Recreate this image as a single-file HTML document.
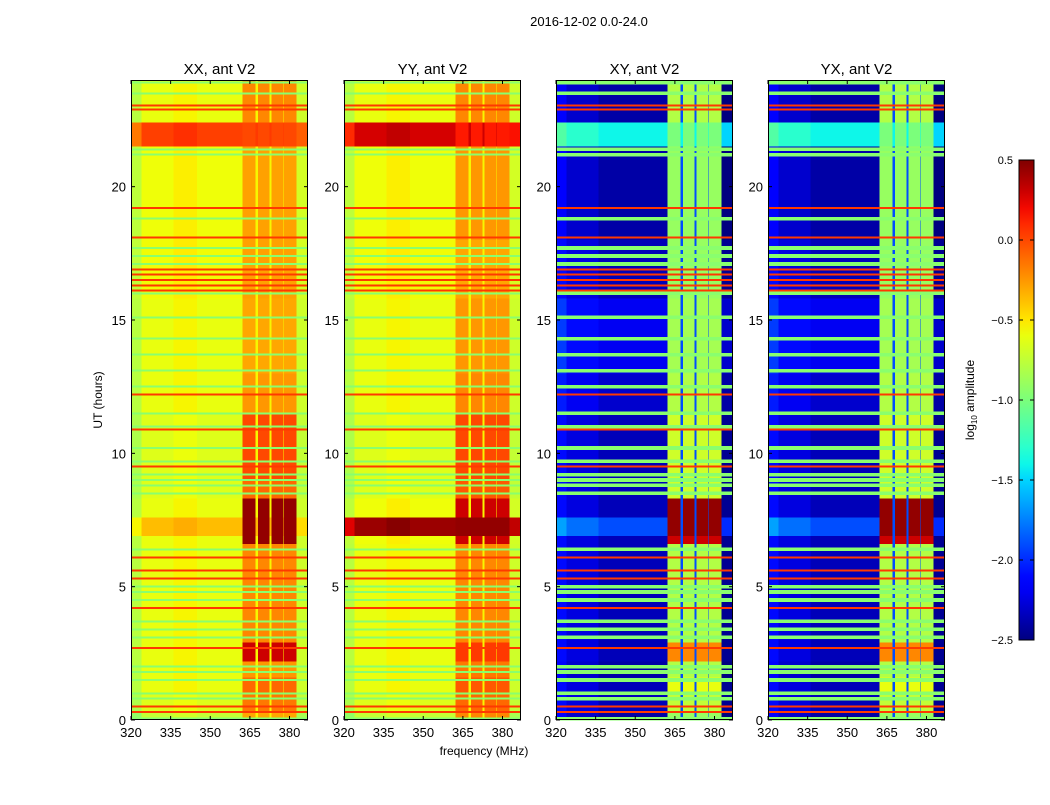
<!DOCTYPE html>
<html><head><meta charset="utf-8">
<style>
body{margin:0;background:#fff;width:1050px;height:800px;overflow:hidden;font-family:"Liberation Sans",sans-serif;}
#root{position:relative;width:1050px;height:800px;}
</style></head>
<body><div id="root">
<svg id="svg" width="1050" height="800" xmlns="http://www.w3.org/2000/svg"></svg>
</div>
<script>
// ---- data ----
const panelTitles = ["XX, ant V2","YY, ant V2","XY, ant V2","YX, ant V2"];
const freqEdges = [320,324,336,345,362.3,367.2,368,372.5,373.2,377.7,378,382.6,387];
const bandKind  = ['b','b','b','b','s','g','s','g','s','g','s','b'];
const bandOffsetAuto  = [-0.2,-0.02,0.03,-0.02,0,0,0,0,0,0,0,-0.12];
const bandOffsetCross = [0.25,0.1,0,0,0,0,0,0,0,0,0,-0.1];
const timeEdges = [0,0.3,1.0,1.6,2.2,2.9,6.6,6.9,7.6,8.3,9.0,11.5,13.0,15.8,18.0,21.5,22.4,24];
const stripXX = [-0.3,-0.15,-0.1,-0.25,0.3,-0.2,0.45,0.45,0.45,-0.1,0.0,-0.25,-0.3,-0.28,-0.28,0.0,-0.2];
const bgXX    = [-0.72,-0.62,-0.58,-0.58,-0.58,-0.58,-0.58,-0.35,-0.58,-0.62,-0.62,-0.58,-0.58,-0.55,-0.56,0.05,-0.58];
const stripYY = [-0.2,-0.1,-0.05,-0.15,0.05,-0.2,0.3,0.45,0.3,-0.05,0.0,-0.2,-0.25,-0.3,-0.25,0.15,-0.2];
const bgYY    = [-0.72,-0.62,-0.58,-0.58,-0.58,-0.58,-0.56,0.45,-0.56,-0.62,-0.62,-0.58,-0.58,-0.55,-0.56,0.3,-0.58];
const stripXY = [-0.9,-0.75,-0.6,-0.8,-0.2,-0.8,0.3,0.45,0.45,-0.7,-0.7,-0.8,-0.85,-0.9,-0.9,-1.0,-0.8];
const bgXY    = [-2.4,-2.35,-2.35,-2.4,-2.35,-2.35,-2.35,-1.9,-2.35,-2.35,-2.35,-2.3,-2.2,-2.35,-2.4,-1.4,-2.4];
const stripYX = [-0.9,-0.75,-0.6,-0.8,-0.2,-0.8,0.3,0.45,0.45,-0.7,-0.7,-0.8,-0.85,-0.9,-0.9,-1.0,-0.8];
const bgYX    = [-2.4,-2.35,-2.35,-2.4,-2.35,-2.35,-2.35,-1.9,-2.35,-2.35,-2.35,-2.3,-2.2,-2.35,-2.4,-1.4,-2.4];
const gapLevel = [-0.55,-0.55,-1.9,-1.9];
const redTimes = [0.3,0.5,2.7,4.2,5.3,5.6,6.1,9.5,10.9,12.2,16.1,16.3,16.5,16.7,16.9,18.1,19.2,22.9,23.05];
const greenTimes = [0.05,0.8,1.0,1.5,1.8,2.0,3.1,3.4,3.7,4.5,4.8,5.0,6.4,8.5,8.8,9.0,9.2,9.7,10.2,11.0,11.5,12.5,13.1,13.7,14.3,15.1,16.0,17.1,17.4,17.7,18.8,21.2,21.4,23.5,23.9];
const redValue = 0.05, greenValue = -0.95;
const xTicks = [320,335,350,365,380];
const yTicks = [0,5,10,15,20];
const cbTicks = [-2.5,-2.0,-1.5,-1.0,-0.5,0.0,0.5];

const stripArr=[stripXX,stripYY,stripXY,stripYX], bgArr=[bgXX,bgYY,bgXY,bgYX];
const panelX=[131,344,556,768], PW=177, PT=80, PB=720;
const NS="http://www.w3.org/2000/svg", svg=document.getElementById('svg');
function mk(tag,attrs,parent){const e=document.createElementNS(NS,tag);for(const k in attrs)e.setAttribute(k,attrs[k]);(parent||svg).appendChild(e);return e;}
function interp(pts,t){for(let i=1;i<pts.length;i++){if(t<=pts[i][0]){const a=pts[i-1],b=pts[i];return a[1]+(b[1]-a[1])*(t-a[0])/(b[0]-a[0]);}}return pts[pts.length-1][1];}
const RP=[[0,0],[0.35,0],[0.66,1],[0.89,1],[1,0.5]];
const GP=[[0,0],[0.125,0],[0.375,1],[0.64,1],[0.91,0],[1,0]];
const BP=[[0,0.5],[0.11,1],[0.34,1],[0.65,0],[1,0]];
function jet(v){let t=(v+2.5)/3;t=Math.max(0,Math.min(1,t));
 return `rgb(${Math.round(interp(RP,t)*255)},${Math.round(interp(GP,t)*255)},${Math.round(interp(BP,t)*255)})`;}
const fmin=320,fmax=387;
function xs(p,f){return panelX[p]+(f-fmin)/(fmax-fmin)*PW;}
function ys(t){return PB-t/24*(PB-PT);}
function txt(x,y,s,size,anchor,extra){const e=mk('text',Object.assign({x:x,y:y,'font-size':size,'text-anchor':anchor||'middle','font-family':'"Liberation Sans",sans-serif',fill:'#000'},extra||{}));e.textContent=s;return e;}

const st=txt(589,26,"2016-12-02 0.0-24.0",13);



for(let p=0;p<4;p++){
 const g=mk('g',{});
 
 
 const hm=mk('g',{'shape-rendering':'crispEdges'},g);
 
 
 const off=p<2?bandOffsetAuto:bandOffsetCross;
 for(let s=0;s<timeEdges.length-1;s++){
  for(let b=0;b<freqEdges.length-1;b++){
   let v;
   if(bandKind[b]==='s') v=stripArr[p][s];
   else if(bandKind[b]==='g') v=Math.max(gapLevel[p],bgArr[p][s]);
   else v=bgArr[p][s]+off[b];
   const x0=xs(p,freqEdges[b]),x1=xs(p,freqEdges[b+1]),y0=ys(timeEdges[s+1]),y1=ys(timeEdges[s]);
   const r=mk('rect',{x:x0,y:y0,width:x1-x0,height:y1-y0,fill:jet(v)},hm);
   
   
  }
 }
 const gw=p<2?0.08:0.14;
 greenTimes.forEach(t=>{const r=mk('rect',{x:panelX[p],y:ys(t+gw/2),width:PW,height:ys(0)-ys(gw),fill:jet(greenValue)},hm);
  
  });
 redTimes.forEach(t=>{const r=mk('rect',{x:panelX[p],y:ys(t+0.035),width:PW,height:ys(0)-ys(0.07),fill:jet(redValue)},hm);
  
  });
 const fr=mk('rect',{x:panelX[p]+0.5,y:PT+0.5,width:PW-1,height:PB-PT-1,fill:'none',stroke:'#000','stroke-width':1},g);
 
 
 xTicks.forEach(f=>{const x=xs(p,f);
  mk('line',{x1:x,x2:x,y1:PB,y2:PB-4,stroke:'#000'},g);mk('line',{x1:x,x2:x,y1:PT,y2:PT+4,stroke:'#000'},g);
  const l=txt(x,PB+17,String(f),13,'middle');g.appendChild(l);
  
  });
 yTicks.forEach(t=>{const y=ys(t);
  mk('line',{x1:panelX[p],x2:panelX[p]+4,y1:y,y2:y,stroke:'#000'},g);mk('line',{x1:panelX[p]+PW,x2:panelX[p]+PW-4,y1:y,y2:y,stroke:'#000'},g);
  const l=txt(panelX[p]-5,y+5,String(t),13,'end');g.appendChild(l);
  
  });
 const tt=txt(panelX[p]+PW/2,74,panelTitles[p],15);g.appendChild(tt);
 
 
}
const xl=txt(484,755,"frequency (MHz)",12);


const yl=txt(0,0,"UT (hours)",12,'middle',{transform:'translate(102,400) rotate(-90)'});



// colorbar
const cb=mk('g',{});


const CBX=1019,CBW=15,CBT=160,CBB=640;
const defs=mk('defs',{});
const lg=mk('linearGradient',{id:'jetg',x1:0,y1:1,x2:0,y2:0},defs);
for(let i=0;i<=30;i++){const v=-2.5+3*i/30;mk('stop',{offset:i/30,'stop-color':jet(v)},lg);}
mk('rect',{x:CBX,y:CBT,width:CBW,height:CBB-CBT,fill:'url(#jetg)',stroke:'#000'},cb);
cbTicks.forEach(v=>{const y=CBB-(v+2.5)/3*(CBB-CBT);
 mk('line',{x1:CBX,x2:CBX+4,y1:y,y2:y,stroke:'#000'},cb);mk('line',{x1:CBX+CBW,x2:CBX+CBW-4,y1:y,y2:y,stroke:'#000'},cb);
 const l=txt(1013,y+4,(v<0?'\u2212':'')+Math.abs(v).toFixed(1),11,'end');cb.appendChild(l);
 
 });
const cl=mk('text',{transform:'translate(974,400) rotate(-90)','text-anchor':'middle','font-size':12,'font-family':'"Liberation Sans",sans-serif'});
cl.innerHTML='log<tspan font-size="8" dy="3">10</tspan><tspan dy="-3"> amplitude</tspan>';


</script>
</body></html>
